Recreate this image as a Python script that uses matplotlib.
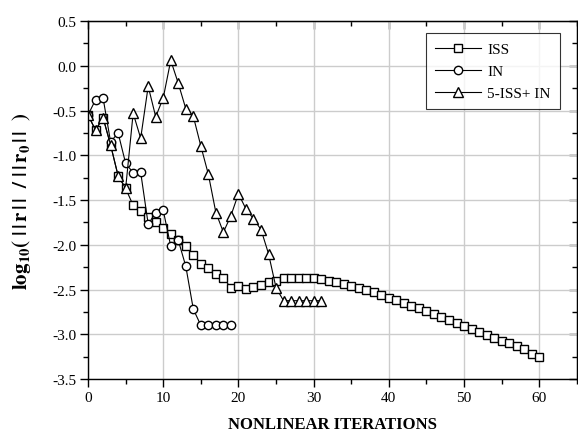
import numpy as np
import matplotlib.pyplot as plt
from matplotlib.ticker import MultipleLocator

plt.rcParams['font.family'] = ['Liberation Serif', 'DejaVu Serif']
plt.rcParams['mathtext.fontset'] = 'stix'
plt.rcParams['axes.unicode_minus'] = False

# ISS: iterations 0..60
iss_x = np.arange(0, 61)
iss_y = [-0.55, -0.72, -0.58, -0.885, -1.23, -1.37, -1.56, -1.62, -1.69, -1.75,
         -1.81, -1.876, -1.95, -2.01, -2.11, -2.215, -2.26, -2.33, -2.37, -2.48,
         -2.46, -2.49, -2.47, -2.45, -2.42, -2.40, -2.375, -2.37, -2.37, -2.37,
         -2.375, -2.38, -2.40, -2.42, -2.44, -2.457, -2.48, -2.51, -2.53, -2.56,
         -2.59, -2.62, -2.65, -2.68, -2.71, -2.745, -2.777, -2.81, -2.84, -2.87,
         -2.91, -2.94, -2.97, -3.005, -3.04, -3.07, -3.10, -3.135, -3.17, -3.22,
         -3.25]

# IN: iterations 0..19
in_x = np.arange(0, 20)
in_y = [-0.55, -0.38, -0.36, -0.85, -0.75, -1.09, -1.195, -1.19, -1.77, -1.64,
        -1.615, -2.017, -1.95, -2.24, -2.72, -2.90, -2.90, -2.90, -2.90, -2.90]

# 5-ISS+ IN: iterations 0..31
hyb_x = np.arange(0, 32)
hyb_y = [-0.55, -0.72, -0.58, -0.885, -1.23, -1.37, -0.53, -0.81, -0.23, -0.57,
         -0.36, 0.06, -0.196, -0.48, -0.565, -0.897, -1.213, -1.64, -1.86, -1.675,
         -1.43, -1.60, -1.71, -1.83, -2.10, -2.48, -2.625, -2.625, -2.625, -2.625,
         -2.625, -2.625]

fig = plt.figure(figsize=(5.78, 4.35), dpi=100)
ax = fig.add_axes([0.1523, 0.1264, 0.8457, 0.823])

style = dict(color='black', linewidth=0.8, markerfacecolor='white',
             markeredgecolor='black', markeredgewidth=1.0)
ax.plot(iss_x, iss_y, marker='s', markersize=6, label='ISS', **style)
ax.plot(in_x, in_y, marker='o', markersize=6, label='IN', **style)
ax.plot(hyb_x, hyb_y, marker='^', markersize=7, label='5-ISS+ IN', **style)

ax.set_xlim(0, 65)
ax.set_ylim(-3.5, 0.5)
ax.xaxis.set_major_locator(MultipleLocator(10))
ax.xaxis.set_minor_locator(MultipleLocator(5))
ax.yaxis.set_major_locator(MultipleLocator(0.5))
ax.yaxis.set_minor_locator(MultipleLocator(0.25))
ax.yaxis.set_major_formatter(plt.FormatStrFormatter('%.1f'))
ax.grid(True, which='major', color='#cccccc', linewidth=1.0)
ax.set_axisbelow(True)

ax.tick_params(which='both', direction='out', labelsize=11, width=1.0)
ax.tick_params(which='major', length=6, pad=2.5)
ax.tick_params(which='minor', length=3.5)

# inward ticks on top and right
top = ax.secondary_xaxis('top')
top.xaxis.set_major_locator(MultipleLocator(10))
top.xaxis.set_minor_locator(MultipleLocator(5))
top.tick_params(which='both', direction='in', labeltop=False, width=1.0)
top.tick_params(which='major', length=6)
top.tick_params(which='minor', length=3.5)
right = ax.secondary_yaxis('right')
right.yaxis.set_major_locator(MultipleLocator(0.5))
right.yaxis.set_minor_locator(MultipleLocator(0.25))
right.tick_params(which='both', direction='in', labelright=False, width=1.0)
right.tick_params(which='major', length=6)
right.tick_params(which='minor', length=3.5)

for sp in ax.spines.values():
    sp.set_linewidth(1.0)

ax.set_xlabel('NONLINEAR ITERATIONS', fontsize=12, fontweight='bold', labelpad=9)
ax.set_ylabel(r'$\mathbf{log_{10}(\ |\,|\,r\,|\,|\ \ /\ |\,|\,r_0\,|\,|\ \ )}$',
              fontsize=15, labelpad=14)

leg = ax.legend(loc='upper right', bbox_to_anchor=(0.965, 0.966), fontsize=11,
                frameon=True, fancybox=False, handlelength=3.0, borderpad=0.6,
                labelspacing=0.55, borderaxespad=0, handletextpad=0.4)
leg.get_frame().set_edgecolor('black')
leg.get_frame().set_linewidth(0.8)

fig.savefig('out.png', dpi=100)
